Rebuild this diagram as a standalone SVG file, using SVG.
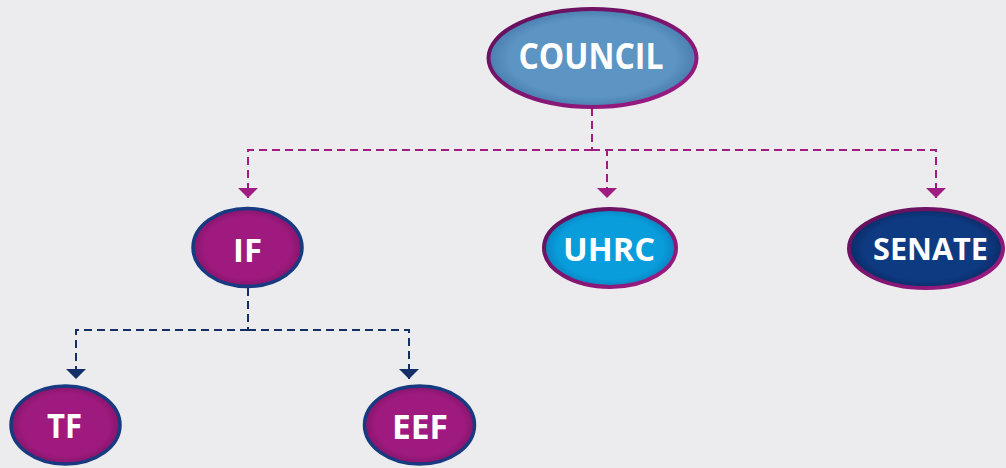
<svg xmlns="http://www.w3.org/2000/svg" width="1006" height="468" viewBox="0 0 1006 468">
<defs>
<style>
.lbl{font-family:"Open Sans","Noto Sans","Liberation Sans",sans-serif;font-weight:bold;fill:#ffffff;text-anchor:middle}
.cm{fill:none;stroke:#a01c80;stroke-width:2;stroke-dasharray:8 5}
.cn{fill:none;stroke:#142f66;stroke-width:2;stroke-dasharray:8 5}
.sp{stroke:url(#gp);stroke-width:4}
.sn{stroke:#173a80;stroke-width:3.5}
</style>
<linearGradient id="gp" x1="0" y1="0" x2="1" y2="1">
<stop offset="0" stop-color="#5e0f58"/>
<stop offset="1" stop-color="#a01c86"/>
</linearGradient>
<radialGradient id="gCouncil" cx="0.5" cy="0.5" r="0.5">
<stop offset="0.8" stop-color="#5c94c3"/>
<stop offset="1" stop-color="#4a7fb0"/>
</radialGradient>
<radialGradient id="gMag" cx="0.5" cy="0.5" r="0.5">
<stop offset="0.8" stop-color="#9e1a7e"/>
<stop offset="1" stop-color="#86156c"/>
</radialGradient>
<radialGradient id="gCyan" cx="0.5" cy="0.5" r="0.5">
<stop offset="0.8" stop-color="#099ddc"/>
<stop offset="1" stop-color="#0884c0"/>
</radialGradient>
<radialGradient id="gNavy" cx="0.5" cy="0.5" r="0.5">
<stop offset="0.8" stop-color="#0e3a82"/>
<stop offset="1" stop-color="#0a2c66"/>
</radialGradient>
<marker id="am" markerWidth="20" markerHeight="10" refX="10" refY="10" markerUnits="userSpaceOnUse" orient="0" viewBox="0 0 20 10">
<path d="M0,0 L20,0 L10,10 Z" fill="#a01c80"/>
</marker>
<marker id="an" markerWidth="20" markerHeight="10" refX="10" refY="10" markerUnits="userSpaceOnUse" orient="0" viewBox="0 0 20 10">
<path d="M0,0 L20,0 L10,10 Z" fill="#142f66"/>
</marker>
</defs>
<rect width="1006" height="468" fill="#ececef"/>
<g id="connectors">
<path class="cm" d="M592,108 V150"/>
<path class="cm" d="M592,150 H248 V198" marker-end="url(#am)"/>
<path class="cm" d="M592,150 H607 V198" marker-end="url(#am)"/>
<path class="cm" d="M592,150 H936 V198" marker-end="url(#am)"/>
<path class="cn" d="M248,288 V330"/>
<path class="cn" d="M248,330 H76 V379" marker-end="url(#an)"/>
<path class="cn" d="M248,330 H409 V379" marker-end="url(#an)"/>
</g>
<g id="council">
<ellipse cx="592.5" cy="58" rx="104" ry="49" fill="url(#gCouncil)" class="sp"/>
<text class="lbl" x="591" y="69" font-size="35" textLength="145" lengthAdjust="spacingAndGlyphs">COUNCIL</text>
</g>
<g id="if">
<ellipse cx="247.5" cy="247.5" rx="54.5" ry="39" fill="url(#gMag)" class="sn"/>
<text class="lbl" x="247.5" y="262" font-size="33" textLength="29" lengthAdjust="spacingAndGlyphs">IF</text>
</g>
<g id="uhrc">
<ellipse cx="610" cy="248" rx="66" ry="39" fill="url(#gCyan)" class="sp"/>
<text class="lbl" x="609" y="261" font-size="33" textLength="92" lengthAdjust="spacingAndGlyphs">UHRC</text>
</g>
<g id="senate">
<ellipse cx="926" cy="248.5" rx="77" ry="39.5" fill="url(#gNavy)" class="sp"/>
<text class="lbl" x="930.5" y="260" font-size="30" textLength="115" lengthAdjust="spacingAndGlyphs">SENATE</text>
</g>
<g id="tf">
<ellipse cx="65.5" cy="425" rx="54.5" ry="39" fill="url(#gMag)" class="sn"/>
<text class="lbl" x="64.5" y="438" font-size="34" textLength="35" lengthAdjust="spacingAndGlyphs">TF</text>
</g>
<g id="eef">
<ellipse cx="419.5" cy="425" rx="55" ry="39" fill="url(#gMag)" class="sn"/>
<text class="lbl" x="420" y="439" font-size="34" textLength="56" lengthAdjust="spacingAndGlyphs">EEF</text>
</g>
</svg>
